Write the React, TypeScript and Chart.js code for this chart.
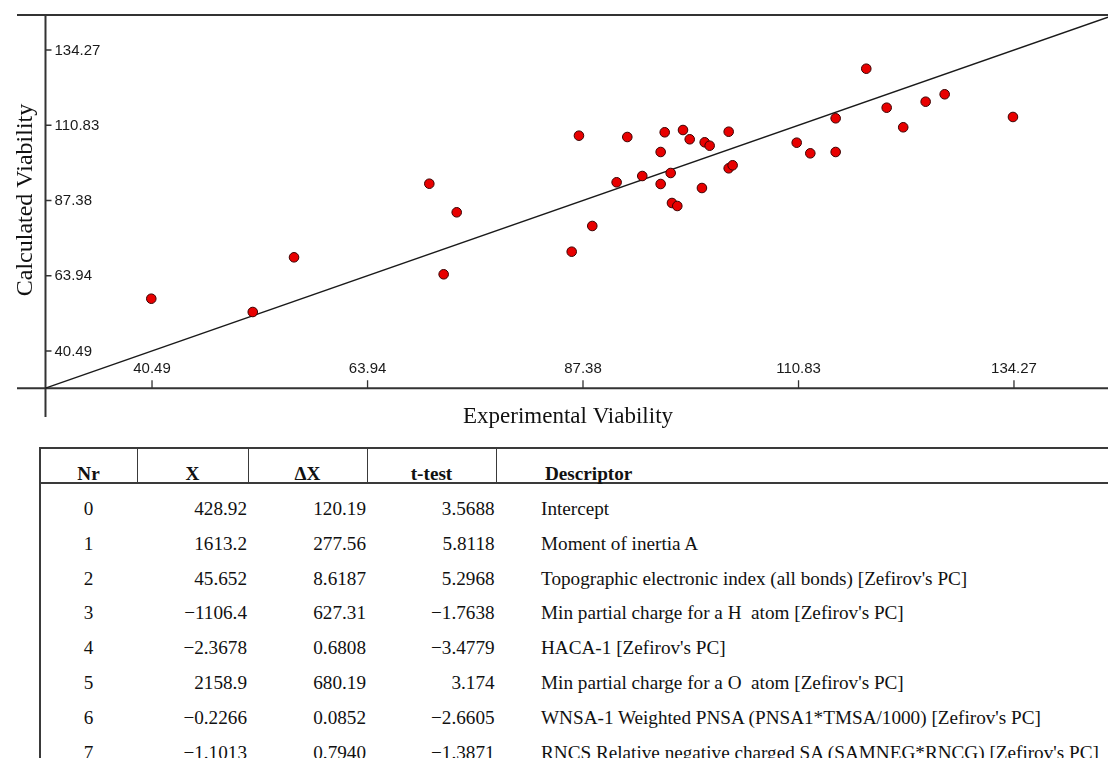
import React, { useEffect, useRef } from "react";
import { Chart, registerables } from "chart.js";

Chart.register(...registerables);

// ---- Data ----
const experimental = [
  40.41, 51.45, 55.94, 70.66, 73.64, 72.22, 86.15, 88.39, 86.94, 92.2,
  96.27, 98.26, 98.99, 100.62, 101.16, 103.23, 95.83, 91.04, 93.83, 95.83,
  96.92, 100.32, 103.23, 103.66, 97.06, 97.64, 118.2, 114.87, 120.42, 124.66,
  126.73, 134.16, 122.22, 110.63, 112.11, 114.87,
];
const calculated = [
  56.78, 52.64, 69.68, 92.61, 83.7, 64.39, 71.43, 79.44, 107.57, 107.16,
  108.63, 109.34, 106.45, 105.51, 104.45, 108.81, 102.49, 93.05, 95.01, 92.52,
  95.95, 91.27, 97.41, 98.35, 86.6, 85.67, 128.44, 112.99, 116.29, 118.16,
  120.47, 113.4, 110.19, 105.39, 102.08, 102.49,
];
const tickValues = [40.49, 63.94, 87.38, 110.83, 134.27];
const tickLabels = ["40.49", "63.94", "87.38", "110.83", "134.27"];
const axisOrigin = 28.9;
const xRange = [25.8, 144.5];
const yRange = [19.93, 145.17];
const fitLine = [28.9, 144.5]; // ideal line y = x
const xTitle = "Experimental Viability";
const yTitle = "Calculated Viability";

const tableHeaders = ["Nr", "X", "\u0394X", "t-test", "Descriptor"];
const tableNr = ["0", "1", "2", "3", "4", "5", "6", "7"];
const tableX = ["428.92", "1613.2", "45.652", "\u22121106.4", "\u22122.3678", "2158.9", "\u22120.2266", "\u22121.1013"];
const tableDX = ["120.19", "277.56", "8.6187", "627.31", "0.6808", "680.19", "0.0852", "0.7940"];
const tableT = ["3.5688", "5.8118", "5.2968", "\u22121.7638", "\u22123.4779", "3.174", "\u22122.6605", "\u22121.3871"];
const tableDesc = [
  "Intercept",
  "Moment of inertia A",
  "Topographic electronic index (all bonds) [Zefirov's PC]",
  "Min partial charge for a H  atom [Zefirov's PC]",
  "HACA-1 [Zefirov's PC]",
  "Min partial charge for a O  atom [Zefirov's PC]",
  "WNSA-1 Weighted PNSA (PNSA1*TMSA/1000) [Zefirov's PC]",
  "RNCS Relative negative charged SA (SAMNEG*RNCG) [Zefirov's PC]",
];

const CANVAS_W = 1108;
const CANVAS_H = 445;

const crossAxes = {
  id: "crossAxes",
  beforeDatasetsDraw(chart: any) {
    const { ctx, chartArea: a, scales } = chart;
    const x = scales.x;
    const y = scales.y;
    const ox = x.getPixelForValue(axisOrigin);
    const oy = y.getPixelForValue(axisOrigin);
    ctx.save();
    ctx.strokeStyle = "#333";
    ctx.lineWidth = 2;
    ctx.beginPath();
    ctx.moveTo(a.left, a.top);
    ctx.lineTo(a.right, a.top);
    ctx.moveTo(a.left, oy);
    ctx.lineTo(a.right, oy);
    ctx.moveTo(ox, a.top);
    ctx.lineTo(ox, a.bottom);
    ctx.stroke();

    ctx.lineWidth = 1.3;
    ctx.beginPath();
    tickValues.forEach((v) => {
      const px = x.getPixelForValue(v);
      ctx.moveTo(px, oy);
      ctx.lineTo(px, oy - 8);
      const py = y.getPixelForValue(v);
      ctx.moveTo(ox, py);
      ctx.lineTo(ox + 6, py);
    });
    ctx.stroke();

    ctx.fillStyle = "#1a1a1a";
    ctx.font = '15px "Liberation Sans", Arial, sans-serif';
    ctx.textAlign = "center";
    ctx.textBaseline = "alphabetic";
    tickLabels.forEach((t, i) => {
      ctx.fillText(t, x.getPixelForValue(tickValues[i]), oy - 15);
    });
    ctx.textAlign = "left";
    ctx.textBaseline = "middle";
    tickLabels.forEach((t, i) => {
      ctx.fillText(t, ox + 9, y.getPixelForValue(tickValues[i]) + 0.5);
    });

    ctx.fillStyle = "#111";
    ctx.font = '23px "Liberation Serif", "Times New Roman", serif';
    ctx.textAlign = "center";
    ctx.textBaseline = "alphabetic";
    ctx.fillText(xTitle, 568, oy + 35);

    ctx.font = '24px "Liberation Serif", "Times New Roman", serif';
    ctx.translate(32, 200);
    ctx.rotate(-Math.PI / 2);
    ctx.fillText(yTitle, 0, 0);
    ctx.restore();
  },
};

const TEXT_FONT = '"Liberation Serif", "Times New Roman", serif';
const LINE = "#3a3a3a";

function hLine(top: number, key: string) {
  return (
    <div
      key={key}
      style={{ position: "absolute", left: 39, top, width: 1108 - 39, height: 1.6, background: LINE }}
    />
  );
}
function vLine(left: number, top: number, height: number, key: string) {
  return (
    <div key={key} style={{ position: "absolute", left, top, width: 1.6, height, background: LINE }} />
  );
}

export default function App() {
  const canvasRef = useRef<HTMLCanvasElement | null>(null);

  useEffect(() => {
    const canvas = canvasRef.current;
    if (!canvas) return;
    const chart = new Chart(canvas, {
      type: "scatter",
      data: {
        datasets: [
          {
            type: "scatter",
            data: experimental.map((v, i) => ({ x: v, y: calculated[i] })),
            backgroundColor: "#e80000",
            borderColor: "#3a0000",
            borderWidth: 1,
            pointRadius: 4.8,
            pointHoverRadius: 4.8,
            order: 0,
          } as any,
          {
            type: "line",
            data: fitLine.map((v) => ({ x: v, y: v })),
            borderColor: "#1a1a1a",
            borderWidth: 1.4,
            pointRadius: 0,
            fill: false,
            order: 1,
          } as any,
        ],
      },
      options: {
        responsive: false,
        animation: false,
        devicePixelRatio: 1,
        layout: { autoPadding: false, padding: { left: 17, top: 15, right: 0, bottom: CANVAS_H - 417 } },
        scales: {
          x: { type: "linear", min: xRange[0], max: xRange[1], display: false },
          y: { type: "linear", min: yRange[0], max: yRange[1], display: false },
        },
        plugins: { legend: { display: false }, tooltip: { enabled: false } },
      } as any,
      plugins: [crossAxes],
    });
    return () => chart.destroy();
  }, []);

  const rowBase = 515;
  const rowStep = 34.85;
  const fs = 19.2;
  const baseOff = 16.1;
  const cell = (text: string, left: number, width: number, top: number, align: any, bold = false, key = "") => (
    <div
      key={key}
      style={{
        position: "absolute",
        left,
        top,
        width,
        textAlign: align,
        fontFamily: TEXT_FONT,
        fontSize: fs,
        lineHeight: fs + "px",
        fontWeight: bold ? "bold" : "normal",
        color: "#111",
        whiteSpace: "pre",
      }}
    >
      {text}
    </div>
  );

  const headerTop = 480 - baseOff;
  const cols = [
    { left: 40, width: 97 },
    { left: 137, width: 111 },
    { left: 248, width: 119 },
    { left: 367, width: 129 },
  ];

  return (
    <div
      style={{
        position: "absolute",
        left: 0,
        top: 0,
        width: 1108,
        height: 758,
        overflow: "hidden",
        background: "#fff",
      }}
    >
      <canvas
        ref={canvasRef}
        width={CANVAS_W}
        height={CANVAS_H}
        style={{ position: "absolute", left: 0, top: 0, width: CANVAS_W, height: CANVAS_H, display: "block" }}
      />
      {hLine(447.4, "h1")}
      {hLine(482.2, "h2")}
      {vLine(39, 447.4, 330, "v0")}
      {[136.5, 247.5, 366.5, 495.8].map((x, i) => vLine(x, 447.4, 36, "vc" + i))}
      {cols.map((c, i) => cell(tableHeaders[i], c.left, c.width, headerTop, "center", true, "hd" + i))}
      {cell(tableHeaders[4], 545, 500, headerTop, "left", true, "hd4")}
      {tableNr.map((nr, i) => {
        const top = rowBase + i * rowStep - baseOff;
        return (
          <React.Fragment key={"r" + i}>
            {cell(nr, 40, 97, top, "center", false, "n")}
            {cell(tableX[i], 137, 110, top, "right", false, "x")}
            {cell(tableDX[i], 248, 118, top, "right", false, "dx")}
            {cell(tableT[i], 367, 127.6, top, "right", false, "t")}
            {cell(tableDesc[i], 541, 570, top, "left", false, "d")}
          </React.Fragment>
        );
      })}
    </div>
  );
}
